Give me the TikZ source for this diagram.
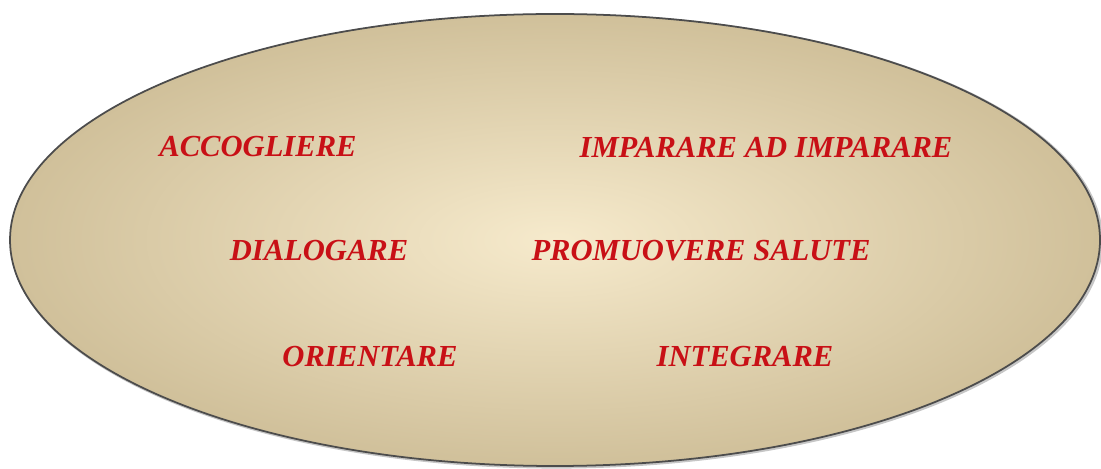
\documentclass[tikz,border=0pt]{standalone}
\usepackage{fontspec}
\setmainfont{Liberation Serif}
\usepackage{tikz}
\usetikzlibrary{shapes.geometric}

\definecolor{rosso}{RGB}{200,16,22}
\definecolor{crema}{RGB}{246,234,204}
\definecolor{sabbia}{RGB}{208,192,154}

\begin{document}
\begin{tikzpicture}[x=1cm,
    voce/.style={text=rosso,font=\fontsize{8.7}{10}\selectfont\bfseries\itshape}]
      \useasboundingbox (0,0) rectangle (11.01,4.68);
      % sfondo ellittico
      \draw[gray!45,line width=0.9pt] (5.565,2.27) ellipse (5.45cm and 2.26cm);
      \shade[inner color=crema,outer color=sabbia,draw=black!70,line width=0.5pt]
        (5.55,2.28) ellipse (5.45cm and 2.26cm);
      %
      \node[voce] (acc) at (2.58,3.21) {ACCOGLIERE};
      \node[voce] (imp) at (7.66,3.21) {IMPARARE AD IMPARARE};
      \node[voce] (dia) at (3.19,2.17) {DIALOGARE};
      \node[voce] (pro) at (7.01,2.17) {PROMUOVERE SALUTE};
      \node[voce] (ori) at (3.70,1.11) {ORIENTARE};
      \node[voce] (int) at (7.45,1.11) {INTEGRARE};
    \end{tikzpicture}
\end{document}
